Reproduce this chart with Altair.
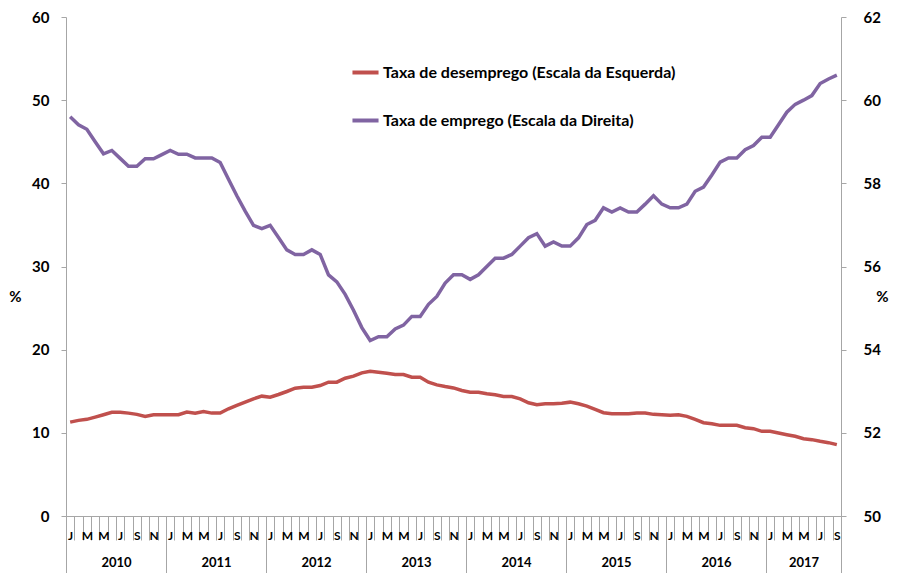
import altair as alt
import pandas as pd

# ---------------- data ----------------
years = ["2010", "2011", "2012", "2013", "2014", "2015", "2016", "2017"]
months_in_year = [12, 12, 12, 12, 12, 12, 12, 9]
month_letters = ["J", "F", "M", "A", "M", "J", "J", "A", "S", "O", "N", "D"]
series_names = ["Taxa de desemprego (Escala da Esquerda)",
                "Taxa de emprego (Escala da Direita)"]
colors = ["#c0504d", "#8064a2"]

desemprego = [
    11.29, 11.50, 11.62, 11.89, 12.18, 12.46, 12.46, 12.37, 12.22, 11.98, 12.18, 12.18,
    12.18, 12.18, 12.49, 12.37, 12.57, 12.37, 12.37, 12.89, 13.29, 13.69, 14.09, 14.41,
    14.29, 14.61, 14.97, 15.37, 15.49, 15.49, 15.69, 16.09, 16.09, 16.57, 16.81, 17.21,
    17.41, 17.29, 17.17, 17.01, 17.01, 16.69, 16.69, 16.09, 15.77, 15.57, 15.40, 15.09,
    14.89, 14.89, 14.69, 14.57, 14.37, 14.37, 14.09, 13.61, 13.37, 13.49, 13.49, 13.57,
    13.69, 13.49, 13.21, 12.81, 12.42, 12.30, 12.30, 12.30, 12.37, 12.37, 12.22, 12.18,
    12.10, 12.18, 11.98, 11.62, 11.22, 11.10, 10.90, 10.90, 10.90, 10.62, 10.50, 10.18,
    10.18, 9.98, 9.78, 9.58, 9.30, 9.18, 8.98, 8.82, 8.58,
]
emprego = [
    59.60, 59.41, 59.30, 59.00, 58.71, 58.79, 58.60, 58.41, 58.41, 58.59, 58.59, 58.69,
    58.79, 58.70, 58.70, 58.61, 58.61, 58.61, 58.50, 58.10, 57.70, 57.33, 56.99, 56.91,
    56.99, 56.70, 56.40, 56.29, 56.29, 56.40, 56.29, 55.80, 55.63, 55.33, 54.95, 54.53,
    54.22, 54.31, 54.31, 54.50, 54.59, 54.80, 54.80, 55.09, 55.28, 55.60, 55.80, 55.80,
    55.69, 55.80, 56.00, 56.20, 56.20, 56.29, 56.49, 56.69, 56.79, 56.49, 56.59, 56.49,
    56.49, 56.69, 57.01, 57.11, 57.41, 57.31, 57.41, 57.31, 57.31, 57.50, 57.70, 57.50,
    57.41, 57.41, 57.50, 57.81, 57.91, 58.20, 58.51, 58.61, 58.61, 58.81, 58.91, 59.11,
    59.11, 59.41, 59.71, 59.90, 60.00, 60.11, 60.40, 60.51, 60.60,
]

left_ticks = [0, 10, 20, 30, 40, 50, 60]
right_ticks = [50, 52, 54, 56, 58, 60, 62]

# ---------------- derived tables ----------------
n = len(desemprego)
pos = [i + 0.5 for i in range(n)]
df1 = pd.DataFrame({"pos": pos, "valor": desemprego, "serie": series_names[0]})
df2 = pd.DataFrame({"pos": pos, "valor": emprego, "serie": series_names[1]})

bounds = [0]
for m in months_in_year:
    bounds.append(bounds[-1] + m)
centers = [(bounds[i] + bounds[i + 1]) / 2 for i in range(len(years))]
df_b = pd.DataFrame({"b": bounds})
df_c = pd.DataFrame({"c": centers, "ano": years})

shown_letters = [l if k % 2 == 0 else "" for k, l in enumerate(month_letters)]
letters_js = "[" + ",".join("'%s'" % s for s in shown_letters) + "]"
years_js = "[" + ",".join("'%s'" % s for s in years) + "]"

# ---------------- style ----------------
W, H = 775, 499
FONT = "Lato"
GRAY = "#a6a6a6"
xscale = alt.Scale(domain=[0, n], nice=False, zero=False)

color = alt.Color(
    "serie:N",
    scale=alt.Scale(domain=series_names, range=colors),
    legend=alt.Legend(
        orient="none", legendX=284, legendY=40, title=None, direction="vertical",
        symbolType="stroke", symbolStrokeWidth=4, symbolSize=680,
        labelFont=FONT, labelFontSize=16, labelFontWeight="bold", labelColor="black",
        rowPadding=24, labelOffset=2, labelLimit=500,
    ),
)

red = alt.Chart(df1).mark_line(strokeWidth=3.5).encode(
    x=alt.X("pos:Q", scale=xscale, axis=alt.Axis(
        orient="bottom", values=list(range(n + 1)), labels=False, tickSize=24,
        tickColor=GRAY, domainColor=GRAY, grid=False, title=None)),
    y=alt.Y("valor:Q", scale=alt.Scale(domain=[0, 60], nice=False), axis=alt.Axis(
        orient="left", values=left_ticks, tickSize=5, labelPadding=12,
        tickColor=GRAY, domainColor=GRAY, grid=False, labelFontSize=15,
        title="%", titleAngle=0, titleX=-51, titleY=279, titleAlign="center",
        titleBaseline="middle", titleFontSize=15)),
    color=color,
)

purple = alt.Chart(df2).mark_line(strokeWidth=3.5).encode(
    x=alt.X("pos:Q", scale=xscale, axis=alt.Axis(
        orient="bottom", values=pos, ticks=False, domain=False, grid=False,
        labelExpr=letters_js + "[floor(datum.value) % 12]", labelPadding=14,
        labelFontSize=12, labelOverlap=False, labelBound=False, title=None)),
    y=alt.Y("valor:Q", scale=alt.Scale(domain=[50, 62], nice=False, zero=False), axis=alt.Axis(
        orient="right", values=right_ticks, tickSize=5, labelPadding=17,
        tickColor=GRAY, domainColor=GRAY, grid=False, labelFontSize=15,
        title="%", titleAngle=0, titleX=41, titleY=279, titleAlign="center",
        titleBaseline="middle", titleFontSize=15)),
    color=color,
)

year_sep = alt.Chart(df_b).mark_rule(opacity=0).encode(
    x=alt.X("b:Q", scale=xscale, axis=alt.Axis(
        orient="bottom", values=bounds, labels=False, tickSize=57, tickColor=GRAY,
        domain=False, grid=False, title=None)),
)

year_lab = alt.Chart(df_c).mark_text(opacity=0).encode(
    x=alt.X("c:Q", scale=xscale, axis=alt.Axis(
        orient="bottom", values=centers, ticks=False, domain=False, grid=False,
        labelExpr=years_js + "[floor(datum.value / 12)]", labelPadding=40,
        labelFontSize=13, labelOverlap=False, title=None)),
    text="ano:N",
)

chart = alt.layer(red, purple, year_sep, year_lab).resolve_scale(
    x="independent", y="independent", color="shared"
).properties(
    width=W, height=H,
    autosize=alt.AutoSizeParams(type="none"),
    padding={"left": 58, "top": 9, "right": 49, "bottom": 57},
).configure_view(stroke=None).configure_axis(
    labelFont=FONT, titleFont=FONT, labelFontWeight="bold", titleFontWeight="bold",
    labelColor="black", titleColor="black",
)

chart.save("out.html", embed_options={"renderer": "svg", "actions": False})
